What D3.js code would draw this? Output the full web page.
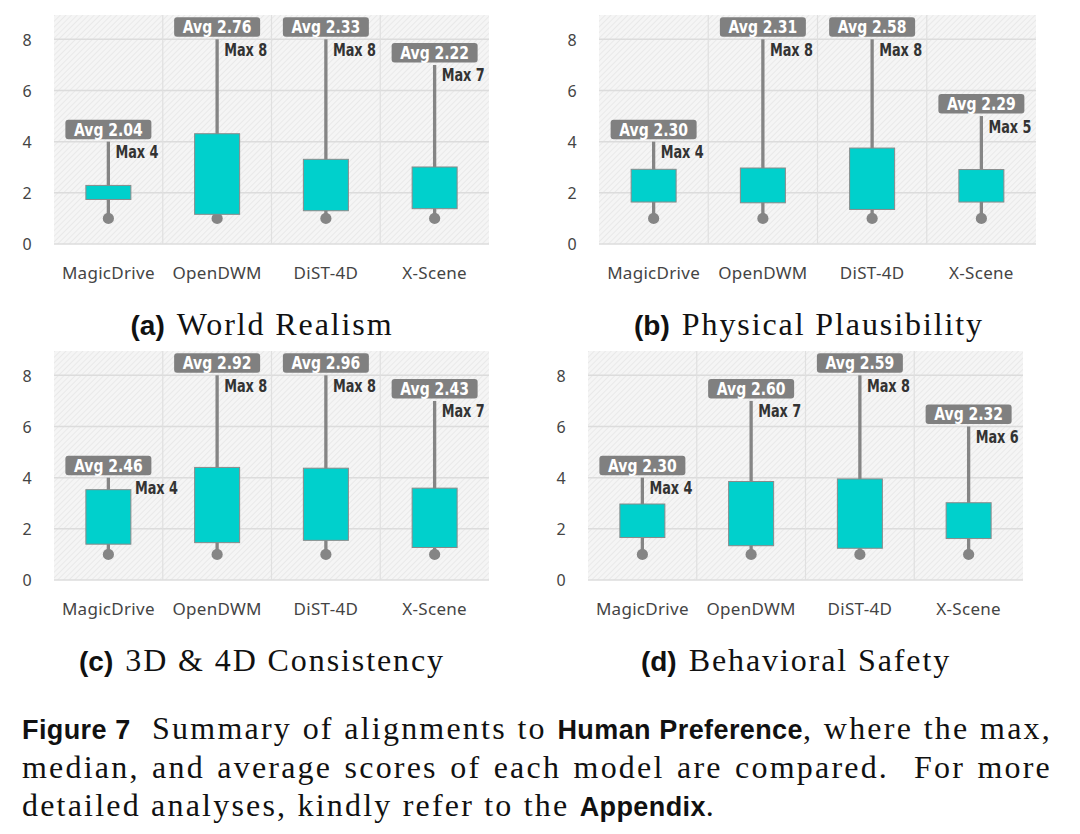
<!DOCTYPE html>
<html>
<head>
<meta charset="utf-8">
<script src="https://cdn.jsdelivr.net/npm/d3@7"></script>
<style>
  body { margin: 0; background: #fff; }
  #vis { position: relative; width: 1080px; height: 834px; }
  .caption { position: absolute; left: 22px; width: 1030px; font-family: 'Liberation Serif', 'DejaVu Serif', serif; font-size: 32px; letter-spacing: 2.2px; color: #111; }
  .caption div { text-align: justify; text-align-last: justify; height: 38.5px; line-height: 38.5px; white-space: nowrap; }
  .caption div.last { text-align-last: left; }
  .caption b { font-family: 'Liberation Sans', 'DejaVu Sans', sans-serif; font-weight: bold; font-size: 27px; letter-spacing: 0.4px; }
</style>
</head>
<body>
<div id="vis"></div>
<script>
// data
var categories = ['MagicDrive', 'OpenDWM', 'DiST-4D', 'X-Scene'];
var panelLetters = ['(a)', '(b)', '(c)', '(d)'];
var panelTitles = ['World Realism', 'Physical Plausibility', '3D & 4D Consistency', 'Behavioral Safety'];
var yTicks = [0, 2, 4, 6, 8];

var avgScores = [
    [2.04, 2.76, 2.33, 2.22],
    [2.30, 2.31, 2.58, 2.29],
    [2.46, 2.92, 2.96, 2.43],
    [2.30, 2.60, 2.59, 2.32]
];
var maxScores = [
    [4, 8, 8, 7],
    [4, 8, 8, 5],
    [4, 8, 8, 7],
    [4, 7, 8, 6]
];
var minScores = [
    [1, 1, 1, 1],
    [1, 1, 1, 1],
    [1, 1, 1, 1],
    [1, 1, 1, 1]
];
var q1Scores = [
    [1.74, 1.16, 1.30, 1.38],
    [1.64, 1.61, 1.35, 1.64],
    [1.40, 1.46, 1.55, 1.27],
    [1.66, 1.34, 1.24, 1.62]
];
var q3Scores = [
    [2.29, 4.31, 3.31, 3.01],
    [2.92, 2.97, 3.75, 2.91],
    [3.53, 4.40, 4.37, 3.59],
    [2.97, 3.85, 3.95, 3.02]
];

// layout
var panels = [
    { left: 54,  right: 489,  top: 15,  capX: 262 },
    { left: 599, right: 1036, top: 15,  capX: 809 },
    { left: 54,  right: 489,  top: 351, capX: 262 },
    { left: 588, right: 1023, top: 351, capX: 796 }
];
var plotH = 229;
var condensed = "'Liberation Sans Narrow', 'DejaVu Sans Condensed', 'Roboto Condensed', sans-serif";
var labelFont = "'Noto Sans', 'DejaVu Sans', sans-serif";

// squeeze a text node horizontally, like a condensed face
function condense(sel, factor)
{
    sel.each(function() {
        var len = this.getComputedTextLength();
        d3.select(this)
            .attr('textLength', len * factor)
            .attr('lengthAdjust', 'spacingAndGlyphs');
    });
}

var svg = d3.select('#vis')
    .append('svg')
        .attr('width', 1080)
        .attr('height', 690)
        .style('position', 'absolute')
        .style('left', 0)
        .style('top', 0);

var defs = svg.append('defs');
var pat = defs.append('pattern')
    .attr('id', 'hatch')
    .attr('patternUnits', 'userSpaceOnUse')
    .attr('width', 4)
    .attr('height', 4)
    .attr('patternTransform', 'rotate(45)');
pat.append('rect').attr('width', 4).attr('height', 4).attr('fill', '#f5f5f5');
pat.append('line').attr('x1', 0).attr('y1', 0).attr('x2', 0).attr('y2', 4)
    .attr('stroke', '#e4e4e4').attr('stroke-width', 1.4);

panels.forEach(function(p, k)
{
    var g = svg.append('g')
        .attr('transform', 'translate(' + p.left + ',' + p.top + ')');
    var w = p.right - p.left;

    var x = d3.scaleBand().domain(categories).range([0, w]).padding(0);
    var y = d3.scaleLinear().domain([0, 8.95]).range([plotH, 0]);

    // background
    g.append('rect')
        .attr('width', w)
        .attr('height', plotH)
        .attr('fill', 'url(#hatch)');

    // horizontal grid
    g.selectAll('.hgrid')
        .data(yTicks)
        .enter()
        .append('line')
        .attr('x1', 0).attr('x2', w)
        .attr('y1', function(d) { return y(d); })
        .attr('y2', function(d) { return y(d); })
        .attr('stroke', '#dcdcdc')
        .attr('stroke-width', 1.5);

    // vertical separators
    g.selectAll('.vgrid')
        .data(categories.slice(1))
        .enter()
        .append('line')
        .attr('x1', function(d) { return x(d); })
        .attr('x2', function(d) { return x(d); })
        .attr('y1', 0).attr('y2', plotH)
        .attr('stroke', '#e0e0e0')
        .attr('stroke-width', 1.2);

    // y axis
    var yAxis = g.append('g')
        .attr('transform', 'translate(-27,0)')
        .call(d3.axisLeft(y).tickValues(yTicks).tickSize(0).tickPadding(0));
    yAxis.select('.domain').remove();
    yAxis.selectAll('text')
        .attr('text-anchor', 'middle')
        .attr('dy', '0.36em')
        .style('font-family', labelFont)
        .style('font-size', '16px')
        .style('fill', '#444');

    // x axis
    var xAxis = g.append('g')
        .attr('transform', 'translate(0,' + plotH + ')')
        .call(d3.axisBottom(x).tickSize(0).tickPadding(23));
    xAxis.select('.domain').remove();
    xAxis.selectAll('text')
        .style('font-family', labelFont)
        .style('font-size', '17px')
        .style('letter-spacing', '0.3px')
        .style('fill', '#444');

    var rows = categories.map(function(c, i) {
        return {
            cat: c,
            avg: avgScores[k][i],
            max: maxScores[k][i],
            min: minScores[k][i],
            q1: q1Scores[k][i],
            q3: q3Scores[k][i]
        };
    });

    var boxW = 45;
    var cx = function(d) { return x(d.cat) + x.bandwidth() / 2; };

    var items = g.selectAll('.item')
        .data(rows)
        .enter()
        .append('g')
        .attr('class', 'item');

    // whisker
    items.append('line')
        .attr('x1', cx).attr('x2', cx)
        .attr('y1', function(d) { return y(d.min); })
        .attr('y2', function(d) { return y(d.max); })
        .attr('stroke', '#858585')
        .attr('stroke-width', 3.3);

    // min dot
    items.append('circle')
        .attr('cx', cx)
        .attr('cy', function(d) { return y(d.min); })
        .attr('r', 5.6)
        .attr('fill', '#858585');

    // box
    items.append('rect')
        .attr('x', function(d) { return cx(d) - boxW / 2; })
        .attr('y', function(d) { return y(d.q3); })
        .attr('width', boxW)
        .attr('height', function(d) { return y(d.q1) - y(d.q3); })
        .attr('fill', '#00d0cc')
        .attr('stroke', '#8a8a8a')
        .attr('stroke-width', 1);

    // avg badge
    items.append('rect')
        .attr('x', function(d) { return cx(d) - 43; })
        .attr('y', function(d) { return y(d.max) - 22; })
        .attr('width', 86)
        .attr('height', 19.5)
        .attr('rx', 3)
        .attr('fill', '#808080');

    items.append('text')
        .attr('x', cx)
        .attr('y', function(d) { return y(d.max) - 6; })
        .attr('text-anchor', 'middle')
        .style('font-family', condensed)
        .style('font-weight', 'bold')
        .style('font-size', '18.5px')
        .style('fill', '#fff')
        .text(function(d) { return 'Avg ' + d.avg.toFixed(2); })
        .call(condense, 0.84);

    // max label (pushed right when the box would cover it)
    items.append('text')
        .attr('x', function(d) {
            if (y(d.q3) - y(d.max) < 22) return cx(d) + boxW / 2 + 4;
            return cx(d) + 7;
        })
        .attr('y', function(d) { return y(d.max) + 16.5; })
        .style('font-family', condensed)
        .style('font-weight', 'bold')
        .style('font-size', '17px')
        .style('fill', '#333')
        .text(function(d) { return 'Max ' + d.max; })
        .call(condense, 0.84);

    // sub caption
    var cap = svg.append('text')
        .attr('x', p.capX)
        .attr('y', p.top + plotH + 91)
        .attr('text-anchor', 'middle');
    cap.append('tspan')
        .style('font-family', "'Liberation Sans', 'DejaVu Sans', sans-serif")
        .style('font-weight', 'bold')
        .style('font-size', '28px')
        .style('fill', '#111')
        .text(panelLetters[k]);
    cap.append('tspan')
        .attr('dx', 12)
        .style('font-family', "'Liberation Serif', 'DejaVu Serif', serif")
        .style('font-size', '32px')
        .style('letter-spacing', '1.9px')
        .style('fill', '#111')
        .text(panelTitles[k]);
});

// figure caption
var caption = d3.select('#vis')
    .append('div')
    .attr('class', 'caption')
    .style('top', '709px');
caption.append('div').html('<b>Figure 7</b>&nbsp; Summary of alignments to <b>Human Preference</b>, where the max,');
caption.append('div').html('median, and average scores of each model are compared.&nbsp; For more');
caption.append('div').attr('class', 'last').html('detailed analyses, kindly refer to the <b>Appendix</b>.');
</script>
</body>
</html>
